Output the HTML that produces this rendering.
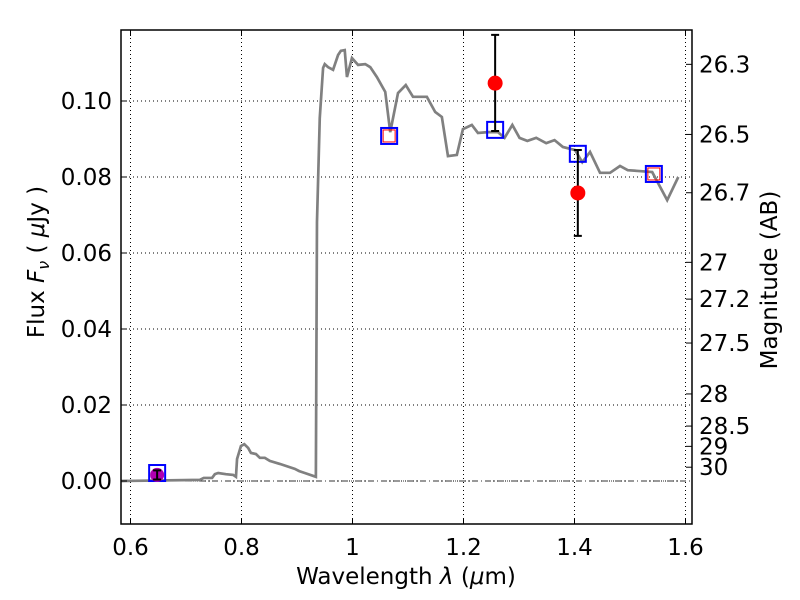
<!DOCTYPE html>
<html><head><meta charset="utf-8"><style>body{margin:0;background:#fff}svg{display:block;font-family:"DejaVu Sans","Liberation Sans",sans-serif}</style></head>
<body>
<svg id="c" width="800" height="600"></svg>
<script>
const specX=[0.583,0.725,0.732,0.747,0.752,0.758,0.772,0.785,0.790,0.792,0.799,0.805,0.812,0.817,0.826,0.833,0.842,0.851,0.869,0.896,0.904,0.914,0.934,0.936,0.941,0.947,0.950,0.956,0.965,0.974,0.979,0.986,0.990,0.999,1.010,1.023,1.032,1.044,1.059,1.068,1.082,1.096,1.109,1.134,1.149,1.161,1.172,1.188,1.199,1.215,1.226,1.244,1.262,1.274,1.288,1.301,1.315,1.331,1.349,1.364,1.379,1.401,1.414,1.428,1.446,1.464,1.482,1.496,1.514,1.540,1.567,1.587,1.605];
const specY=[0,0.0003,0.0008,0.0008,0.0018,0.0021,0.0018,0.0016,0.0011,0.0058,0.0092,0.0097,0.0087,0.0074,0.0071,0.0061,0.0061,0.0053,0.0045,0.0032,0.0026,0.0021,0.0011,0.0682,0.0955,0.1087,0.1097,0.1089,0.1082,0.1121,0.1132,0.1134,0.1063,0.1113,0.1095,0.1097,0.1089,0.1063,0.1024,0.0918,0.1021,0.1042,0.1011,0.1011,0.0971,0.0958,0.0855,0.0858,0.0926,0.0937,0.0916,0.0918,0.0918,0.0903,0.0937,0.0903,0.0895,0.0903,0.0889,0.0897,0.0879,0.0871,0.0839,0.0866,0.0811,0.0811,0.0829,0.0818,0.0816,0.0813,0.0739,0.08];
const photX=[0.648,1.066,1.257,1.406,1.543];
const photY=[0.0021,0.0908,0.0924,0.0861,0.0808];
const modelX=[1.066,1.543];
const modelY=[0.0908,0.0808];
const obsX=[1.257,1.406];
const obsY=[0.1047,0.0758];
const obsLo=[0.0921,0.0645];
const obsHi=[0.1174,0.0871];
const magX=[0.648], magY=[0.0016], magErr=[0.0012];
const xTicks=[0.6,0.8,1.0,1.2,1.4,1.6];
const xTickLabels=["0.6","0.8","1","1.2","1.4","1.6"];
const yTicks=[0,0.02,0.04,0.06,0.08,0.10];
const yTickLabels=["0.00","0.02","0.04","0.06","0.08","0.10"];
const magTicks=[26.3,26.5,26.7,27,27.2,27.5,28,28.5,29,30];
const magLabels=["26.3","26.5","26.7","27","27.2","27.5","28","28.5","29","30"];

const L=121,R=692,T=30,B=524;
const X=v=>130.5+(v-0.6)*555, Y=v=>481-v*3800;
const svg=document.getElementById('c'),NS='http://www.w3.org/2000/svg';
function mk(t,a,p){const e=document.createElementNS(NS,t);for(const k in a)e.setAttribute(k,a[k]);(p||svg).appendChild(e);return e;}
xTicks.forEach(v=>{const g=mk('line',{x1:X(v),x2:X(v),y1:T,y2:B,stroke:'#000','stroke-dasharray':'1,3','stroke-width':1});

});
yTicks.forEach(v=>{const g=mk('line',{x1:L,x2:R,y1:Y(v),y2:Y(v),stroke:'#000','stroke-dasharray':'1,3','stroke-width':1});

});
const z=mk('line',{x1:L,x2:R,y1:Y(0),y2:Y(0),stroke:'#333','stroke-dasharray':'6,3,1,3','stroke-width':1});


const sp=mk('polyline',{points:specX.map((x,i)=>X(x)+','+Y(specY[i])).join(' '),fill:'none',stroke:'#808080','stroke-width':2.7});


photX.forEach((x,i)=>{const r=mk('rect',{x:X(x)-8,y:Y(photY[i])-8,width:16,height:16,fill:'none',stroke:'#00f','stroke-width':2});

});
modelX.forEach((x,i)=>{const r=mk('rect',{x:X(x)-6,y:Y(modelY[i])-6,width:12,height:12,fill:'none',stroke:'#f00','stroke-width':1});

});
obsX.forEach((x,i)=>{const cx=X(x);
const e=mk('path',{d:`M${cx},${Y(obsLo[i])}V${Y(obsHi[i])}M${cx-4},${Y(obsLo[i])}h8M${cx-4},${Y(obsHi[i])}h8`,stroke:'#000','stroke-width':2});


const c=mk('circle',{cx:cx,cy:Y(obsY[i]),r:7.5,fill:'#f00'});

});
magX.forEach((x,i)=>{const cx=X(x);
const c=mk('circle',{cx:cx,cy:Y(magY[i]),r:7,fill:'#b000b0'});


const e=mk('path',{d:`M${cx},${Y(magY[i]-magErr[i])}V${Y(magY[i]+magErr[i])}M${cx-4},${Y(magY[i]-magErr[i])}h8M${cx-4},${Y(magY[i]+magErr[i])}h8`,stroke:'#000','stroke-width':2});

});
const f=mk('rect',{x:L,y:T,width:R-L,height:B-T,fill:'none',stroke:'#000','stroke-width':1.5});


xTicks.forEach((v,i)=>{mk('path',{d:`M${X(v)},${B}v-6M${X(v)},${T}v6`,stroke:'#000'});
const t=mk('text',{x:X(v),y:555,'text-anchor':'middle','font-size':23});t.textContent=xTickLabels[i];

});
yTicks.forEach((v,i)=>{mk('path',{d:`M${L},${Y(v)}h6`,stroke:'#000'});
const t=mk('text',{x:112,y:Y(v)+8,'text-anchor':'end','font-size':23});t.textContent=yTickLabels[i];

});
magTicks.forEach((m,i)=>{const y=Y(Math.pow(10,(23.9-m)/2.5));mk('path',{d:`M${R},${y}h-6`,stroke:'#000'});
const t=mk('text',{x:699,y:y+8,'font-size':23});t.textContent=magLabels[i];

});
</script>
<svg width="800" height="600" style="position:absolute;left:0;top:0;font-family:'DejaVu Sans','Liberation Sans',sans-serif">
<text x="406" y="584" text-anchor="middle" font-size="23">Wavelength  <tspan font-style="italic">λ</tspan> (<tspan font-style="italic">μ</tspan>m)</text>
<text transform="translate(44,262) rotate(-90)" text-anchor="middle" font-size="23">Flux  <tspan font-style="italic">F</tspan><tspan font-style="italic" font-size="16" dy="5">ν</tspan><tspan dy="-5">  ( </tspan><tspan font-style="italic">μ</tspan>Jy )</text>
<text transform="translate(777,280) rotate(-90)" text-anchor="middle" font-size="23">Magnitude (AB)</text>
</svg>
</body></html>
